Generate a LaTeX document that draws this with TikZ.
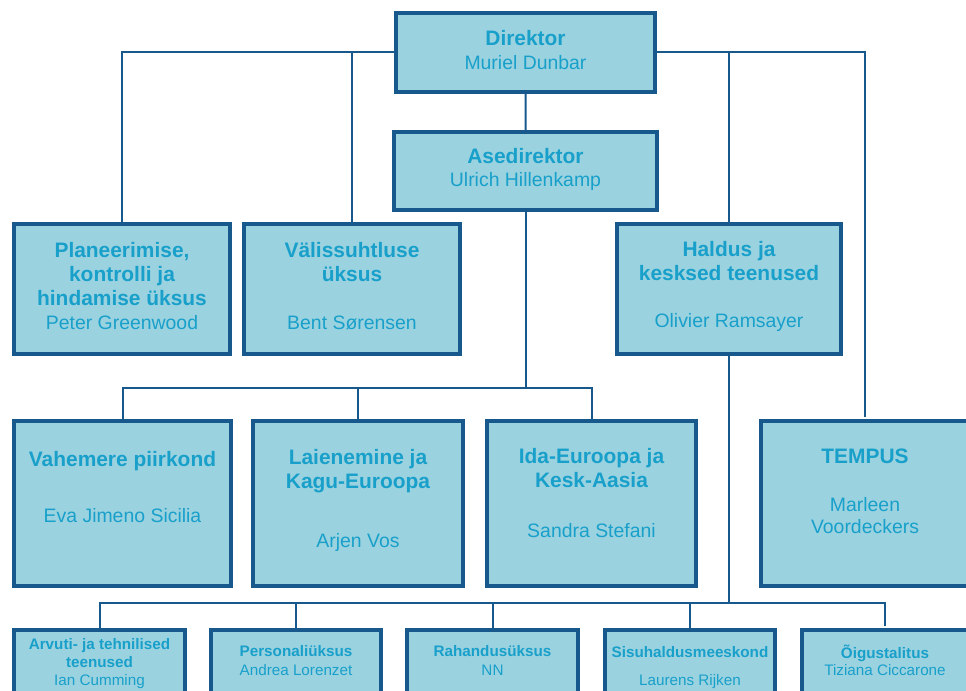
\documentclass[tikz,border=0pt]{standalone}
\usepackage{fontspec}
\setmainfont{Liberation Sans}
\definecolor{edge}{RGB}{23,89,140}
\definecolor{cell}{RGB}{155,210,224}
\definecolor{ink}{RGB}{24,160,202}
\begin{document}
\begin{tikzpicture}[x=1bp,y=-1bp,
  box/.style={draw=edge,line width=4bp,fill=cell,anchor=north west,inner sep=0pt},
  ttl/.style={text=ink,font=\bfseries\fontsize{21}{24}\selectfont,align=center,anchor=base,inner sep=0pt},
  who/.style={text=ink,font=\fontsize{19.5}{22}\selectfont,align=center,anchor=base,inner sep=0pt},
  sttl/.style={text=ink,font=\bfseries\fontsize{15.3}{18}\selectfont,align=center,anchor=base,inner sep=0pt},
  swho/.style={text=ink,font=\fontsize{15.3}{18}\selectfont,align=center,anchor=base,inner sep=0pt},
  link/.style={draw=edge,line width=2bp}]
\useasboundingbox (0,0) rectangle (966,691);
% boxes
\node[box,minimum width=259bp,minimum height=79bp] (dir) at (394,11) {};
\node[box,minimum width=263bp,minimum height=78bp] (ase) at (392,130) {};
\node[box,minimum width=216bp,minimum height=130bp] (plan) at (12,222) {};
\node[box,minimum width=216bp,minimum height=130bp] (valis) at (242,222) {};
\node[box,minimum width=224bp,minimum height=130bp] (hald) at (615,222) {};
\node[box,minimum width=217bp,minimum height=165bp] (vah) at (12,419) {};
\node[box,minimum width=210bp,minimum height=165bp] (laie) at (251,419) {};
\node[box,minimum width=209bp,minimum height=165bp] (ida) at (485,419) {};
\node[box,minimum width=240bp,minimum height=165bp] (temp) at (759,419) {};
\node[box,minimum width=171bp,minimum height=100bp] (arv) at (12,628) {};
\node[box,minimum width=170bp,minimum height=100bp] (pers) at (209,628) {};
\node[box,minimum width=171bp,minimum height=100bp] (rah) at (405,628) {};
\node[box,minimum width=170bp,minimum height=100bp] (sis) at (603,628) {};
\node[box,minimum width=200bp,minimum height=100bp] (oig) at (800,628) {};
% texts
\node[ttl] (dir-t) at (dir.center |- 0,46) {Direktor};
\node[who] (dir-n) at (dir.center |- 0,70) {Muriel Dunbar};
\node[ttl] (ase-t) at (ase.center |- 0,164) {Asedirektor};
\node[who] (ase-n) at (ase.center |- 0,187) {Ulrich Hillenkamp};
\node[ttl] (plan-t) at (plan.center |- 0,305) {Planeerimise,\\kontrolli ja\\hindamise üksus};
\node[who] (plan-n) at (plan.center |- 0,329) {Peter Greenwood};
\node[ttl] (valis-t) at (valis.center |- 0,281) {Välissuhtluse\\üksus};
\node[who] (valis-n) at (valis.center |- 0,329) {Bent Sørensen};
\node[ttl] (hald-t) at (hald.center |- 0,280) {Haldus ja\\kesksed teenused};
\node[who] (hald-n) at (hald.center |- 0,327) {Olivier Ramsayer};
\node[ttl] (vah-t) at (vah.center |- 0,466) {Vahemere piirkond};
\node[who] (vah-n) at (vah.center |- 0,522) {Eva Jimeno Sicilia};
\node[ttl] (laie-t) at (laie.center |- 0,488) {Laienemine ja\\Kagu-Euroopa};
\node[who] (laie-n) at (laie.center |- 0,547) {Arjen Vos};
\node[ttl] (ida-t) at (ida.center |- 0,487) {Ida-Euroopa ja\\Kesk-Aasia};
\node[who] (ida-n) at (ida.center |- 0,537) {Sandra Stefani};
\node[ttl] (temp-t) at (865,463) {TEMPUS};
\node[who] (temp-n) at (865,533) {Marleen\\Voordeckers};
\node[sttl] (arv-t) at (arv.center |- 0,667) {Arvuti- ja tehnilised\\teenused};
\node[swho] (arv-n) at (arv.center |- 0,685) {Ian Cumming};
\node[sttl] (pers-t) at (pers.center |- 0,656) {Personaliüksus};
\node[swho] (pers-n) at (pers.center |- 0,675) {Andrea Lorenzet};
\node[sttl] (rah-t) at (rah.center |- 0,656) {Rahandusüksus};
\node[swho] (rah-n) at (rah.center |- 0,675) {NN};
\node[sttl] (sis-t) at (sis.center |- 0,657) {Sisuhaldusmeeskond};
\node[swho] (sis-n) at (sis.center |- 0,685) {Laurens Rijken};
\node[sttl] (oig-t) at (885,658) {Õigustalitus};
\node[swho] (oig-n) at (885,675) {Tiziana Ciccarone};
% connectors
\coordinate (busA) at (ase.south |- 0,388);
\coordinate (busB) at (hald.south |- 0,603);
\coordinate (tempTop) at (865,417);
\coordinate (oigTop) at (885,626);
\draw[link] (dir.south) -- (ase.north);
\draw[link] (dir.west) -| (plan.north);
\draw[link] (dir.west) -| (valis.north);
\draw[link] (dir.east) -| (hald.north);
\draw[link] (dir.east) -| (tempTop);
\draw[link] (ase.south) -- (busA);
\draw[link] (vah.north) |- (busA) -| (ida.north);
\draw[link] (laie.north) -- (laie.north |- busA);
\draw[link] (hald.south) -- (busB);
\draw[link] (arv.north) |- (busB) -| (oigTop);
\draw[link] (pers.north) -- (pers.north |- busB);
\draw[link] (rah.north) -- (rah.north |- busB);
\draw[link] (sis.north) -- (sis.north |- busB);
\end{tikzpicture}
\end{document}
